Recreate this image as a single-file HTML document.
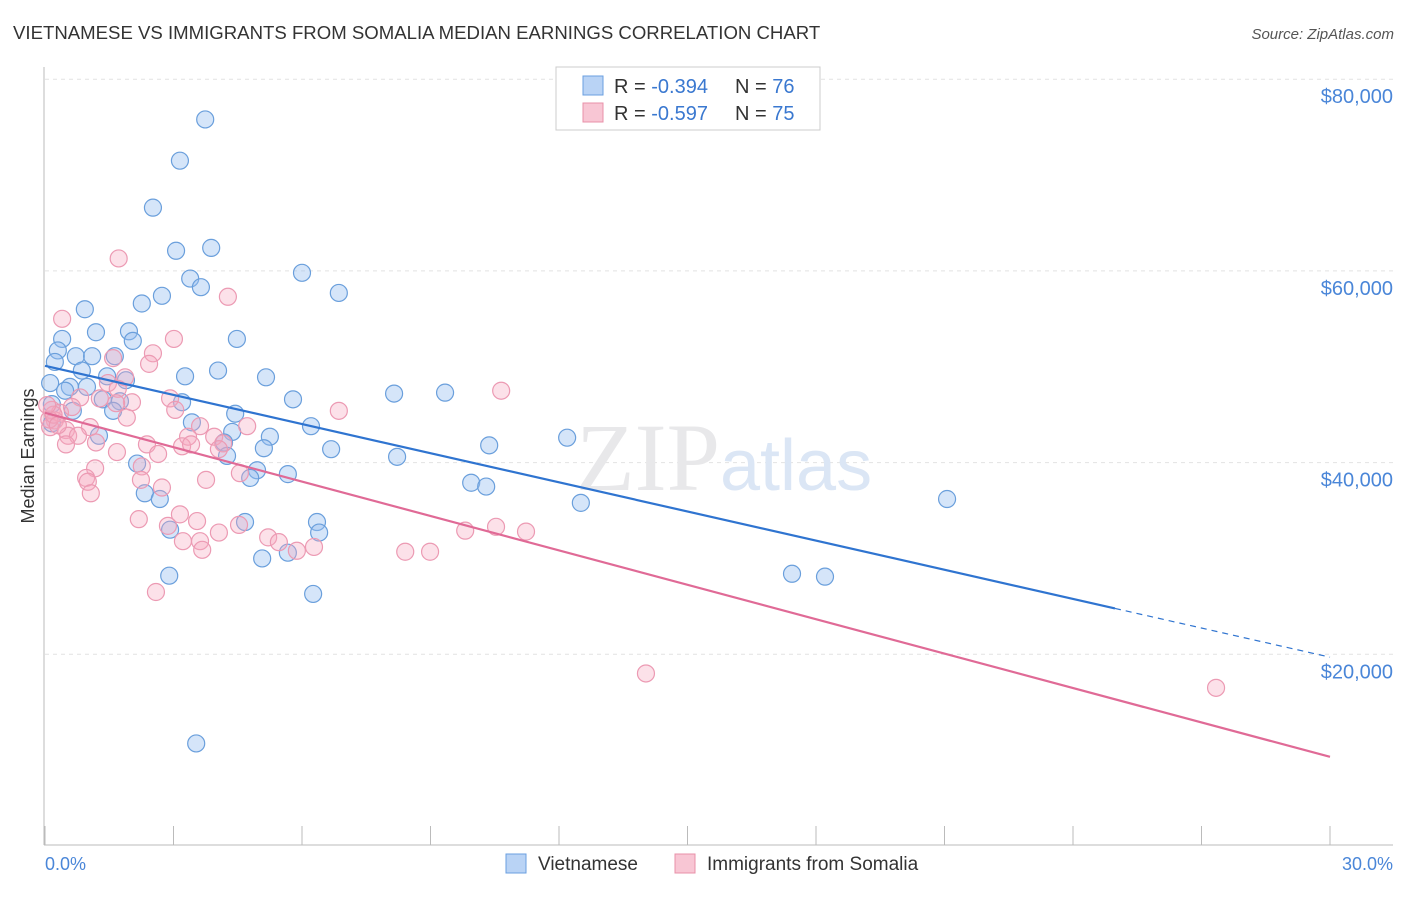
<!DOCTYPE html>
<html><head><meta charset="utf-8"><style>
body{margin:0;background:#fff;font-family:"Liberation Sans",sans-serif;}
</style></head><body>
<svg width="1406" height="892" viewBox="0 0 1406 892" xmlns="http://www.w3.org/2000/svg">
<text x="13" y="39" font-size="18.6" fill="#333">VIETNAMESE VS IMMIGRANTS FROM SOMALIA MEDIAN EARNINGS CORRELATION CHART</text>
<text x="1394" y="39" font-size="15" fill="#555" font-style="italic" text-anchor="end">Source: ZipAtlas.com</text>
<g id="grid"></g>
<text x="720" y="490" font-size="96" fill="#e8e8ea" text-anchor="end" font-family="Liberation Serif">ZIP</text>
<text x="720" y="490" font-size="72" fill="#dbe6f5">atlas</text>
<line x1="44" y1="67" x2="44" y2="845" stroke="#bbb"/>
<line x1="44" y1="845" x2="1393" y2="845" stroke="#bbb"/>
<text x="34" y="456" font-size="18" fill="#333" text-anchor="middle" transform="rotate(-90 34 456)">Median Earnings</text>
<text x="45" y="870" font-size="18" fill="#4a86d8">0.0%</text>
<text x="1393" y="870" font-size="18" fill="#4a86d8" text-anchor="end">30.0%</text>
<g id="pts"></g>
<g id="lines"></g>
<g>
<rect x="556" y="67" width="264" height="63" fill="#fff" stroke="#ccc"/>
<rect x="583" y="76" width="20" height="19" fill="#b9d3f5" stroke="#6a9fe0"/>
<rect x="583" y="103" width="20" height="19" fill="#f8c6d4" stroke="#e890a8"/>
<text x="614" y="93" font-size="20" fill="#333">R = <tspan fill="#3a78d0">-0.394</tspan></text>
<text x="735" y="93" font-size="20" fill="#333">N = <tspan fill="#3a78d0">76</tspan></text>
<text x="614" y="120" font-size="20" fill="#333">R = <tspan fill="#3a78d0">-0.597</tspan></text>
<text x="735" y="120" font-size="20" fill="#333">N = <tspan fill="#3a78d0">75</tspan></text>
</g>
<g>
<rect x="506" y="854" width="20" height="19" fill="#b9d3f5" stroke="#6a9fe0"/>
<text x="538" y="870" font-size="19" fill="#333">Vietnamese</text>
<rect x="675" y="854" width="20" height="19" fill="#f8c6d4" stroke="#e890a8"/>
<text x="707" y="870" font-size="19" fill="#333">Immigrants from Somalia</text>
</g>
</svg>
<script>
const yTicks=[20000,40000,60000,80000];
const yTickLabels=["$20,000","$40,000","$60,000","$80,000"];
const xTicks=[0,3,6,9,12,15,18,21,24,27,30];
const blueX=[3.74,3.15,2.52,3.06,3.88,3.39,3.64,6.0,6.86,2.73,2.26,0.93,1.19,1.96,2.05,4.48,0.40,0.30,0.72,1.10,1.63,0.23,0.86,1.45,3.27,4.04,5.16,1.89,0.12,0.58,0.98,0.47,8.15,9.34,5.79,3.20,1.35,1.75,0.16,0.65,1.59,4.44,3.43,6.21,0.16,4.37,5.25,1.26,12.19,4.18,10.37,5.11,6.68,4.25,8.22,2.15,4.95,5.67,4.79,9.95,10.30,2.33,2.68,12.51,21.06,4.67,6.35,6.40,2.92,5.07,5.67,17.44,18.21,2.90,6.26,3.53];
const blueY=[75.8,71.5,66.6,62.1,62.4,59.2,58.3,59.8,57.7,57.4,56.6,56.0,53.6,53.7,52.7,52.9,52.9,51.7,51.1,51.1,51.1,50.5,49.6,49.0,49.0,49.6,48.9,48.6,48.3,47.9,47.9,47.5,47.2,47.3,46.6,46.3,46.6,46.4,46.1,45.4,45.4,45.1,44.2,43.8,44.1,43.2,42.7,42.8,42.6,42.1,41.8,41.5,41.4,40.7,40.6,39.9,39.2,38.8,38.4,37.9,37.5,36.8,36.2,35.8,36.2,33.8,33.8,32.7,33.0,30.0,30.6,28.4,28.1,28.2,26.3,10.7];
const pinkX=[1.72,4.27,0.40,3.01,2.52,1.59,2.43,10.65,1.87,1.47,1.70,1.28,2.03,2.92,1.66,0.82,0.16,0.35,0.63,3.04,6.86,1.91,0.23,0.12,0.49,1.05,3.62,4.72,0.54,0.77,3.34,3.95,4.16,1.19,0.49,2.38,3.20,3.41,4.06,1.68,2.64,2.26,1.17,0.96,1.00,4.55,3.76,2.24,2.73,1.07,3.15,2.19,3.55,4.53,9.81,10.53,11.23,2.87,4.06,5.21,3.22,3.62,5.46,6.28,3.67,5.88,8.41,8.99,2.59,14.03,27.34,0.1,0.2,0.05,0.3];
const pinkY=[61.3,57.3,55.0,52.9,51.4,50.9,50.3,47.5,48.9,48.3,47.7,46.7,46.3,46.7,46.2,46.8,45.5,45.2,45.8,45.5,45.4,44.7,44.4,43.7,43.4,43.7,43.8,43.8,42.8,42.8,42.7,42.7,42.0,42.1,41.9,41.9,41.7,41.9,41.4,41.1,40.9,39.6,39.4,38.4,38.0,38.9,38.2,38.2,37.4,36.8,34.6,34.1,33.9,33.5,32.9,33.3,32.8,33.4,32.7,32.2,31.8,31.8,31.7,31.2,30.9,30.8,30.7,30.7,26.5,18.0,16.5,44.5,45.0,46.0,43.9];
const blueTrend=[50.1,19.7], blueSolidEnd=24.98;
const pinkTrend=[45.2,9.3];
const X=v=>45+v*(1285/30);
const Y=v=>846-v*(191.7/20000);
const NS="http://www.w3.org/2000/svg";
function mk(t,a,p){const e=document.createElementNS(NS,t);for(const k in a)e.setAttribute(k,a[k]);p.appendChild(e);return e;}
const grid=document.getElementById('grid');
yTicks.forEach((v,i)=>{
 const l=mk('line',{x1:45,x2:1393,y1:Y(v),y2:Y(v),stroke:'#e2e2e2','stroke-dasharray':'4,4'},grid);
 
 
 const t=mk('text',{x:1393,y:Y(v)+24,'font-size':20,fill:'#4a86d8','text-anchor':'end'},grid);
 t.textContent=yTickLabels[i];
 
 
});
xTicks.forEach(v=>{
 const l=mk('line',{x1:X(v),x2:X(v),y1:826,y2:845,stroke:'#bbb'},grid);
 
 
});
const pts=document.getElementById('pts');
blueX.forEach((x,i)=>{
 const c=mk('circle',{cx:X(x),cy:Y(blueY[i]*1000),r:8.5,fill:'rgba(150,190,240,0.4)',stroke:'#6a9fdc','stroke-width':1.2},pts);
 
 
});
pinkX.forEach((x,i)=>{
 const c=mk('circle',{cx:X(x),cy:Y(pinkY[i]*1000),r:8.5,fill:'rgba(245,170,192,0.35)',stroke:'#ec9ab3','stroke-width':1.2},pts);
 
 
});
const lines=document.getElementById('lines');
const by=x=>blueTrend[0]+(blueTrend[1]-blueTrend[0])*x/30;
let l1=mk('line',{x1:X(0),y1:Y(by(0)*1000),x2:X(blueSolidEnd),y2:Y(by(blueSolidEnd)*1000),stroke:'#2f74d0','stroke-width':2.2},lines);


let l2=mk('line',{x1:X(blueSolidEnd),y1:Y(by(blueSolidEnd)*1000),x2:X(30),y2:Y(by(30)*1000),stroke:'#2f74d0','stroke-width':1.2,'stroke-dasharray':'6,5'},lines);


let l3=mk('line',{x1:X(0),y1:Y(pinkTrend[0]*1000),x2:X(30),y2:Y(pinkTrend[1]*1000),stroke:'#e06a96','stroke-width':2.2},lines);


</script>
</body></html>
